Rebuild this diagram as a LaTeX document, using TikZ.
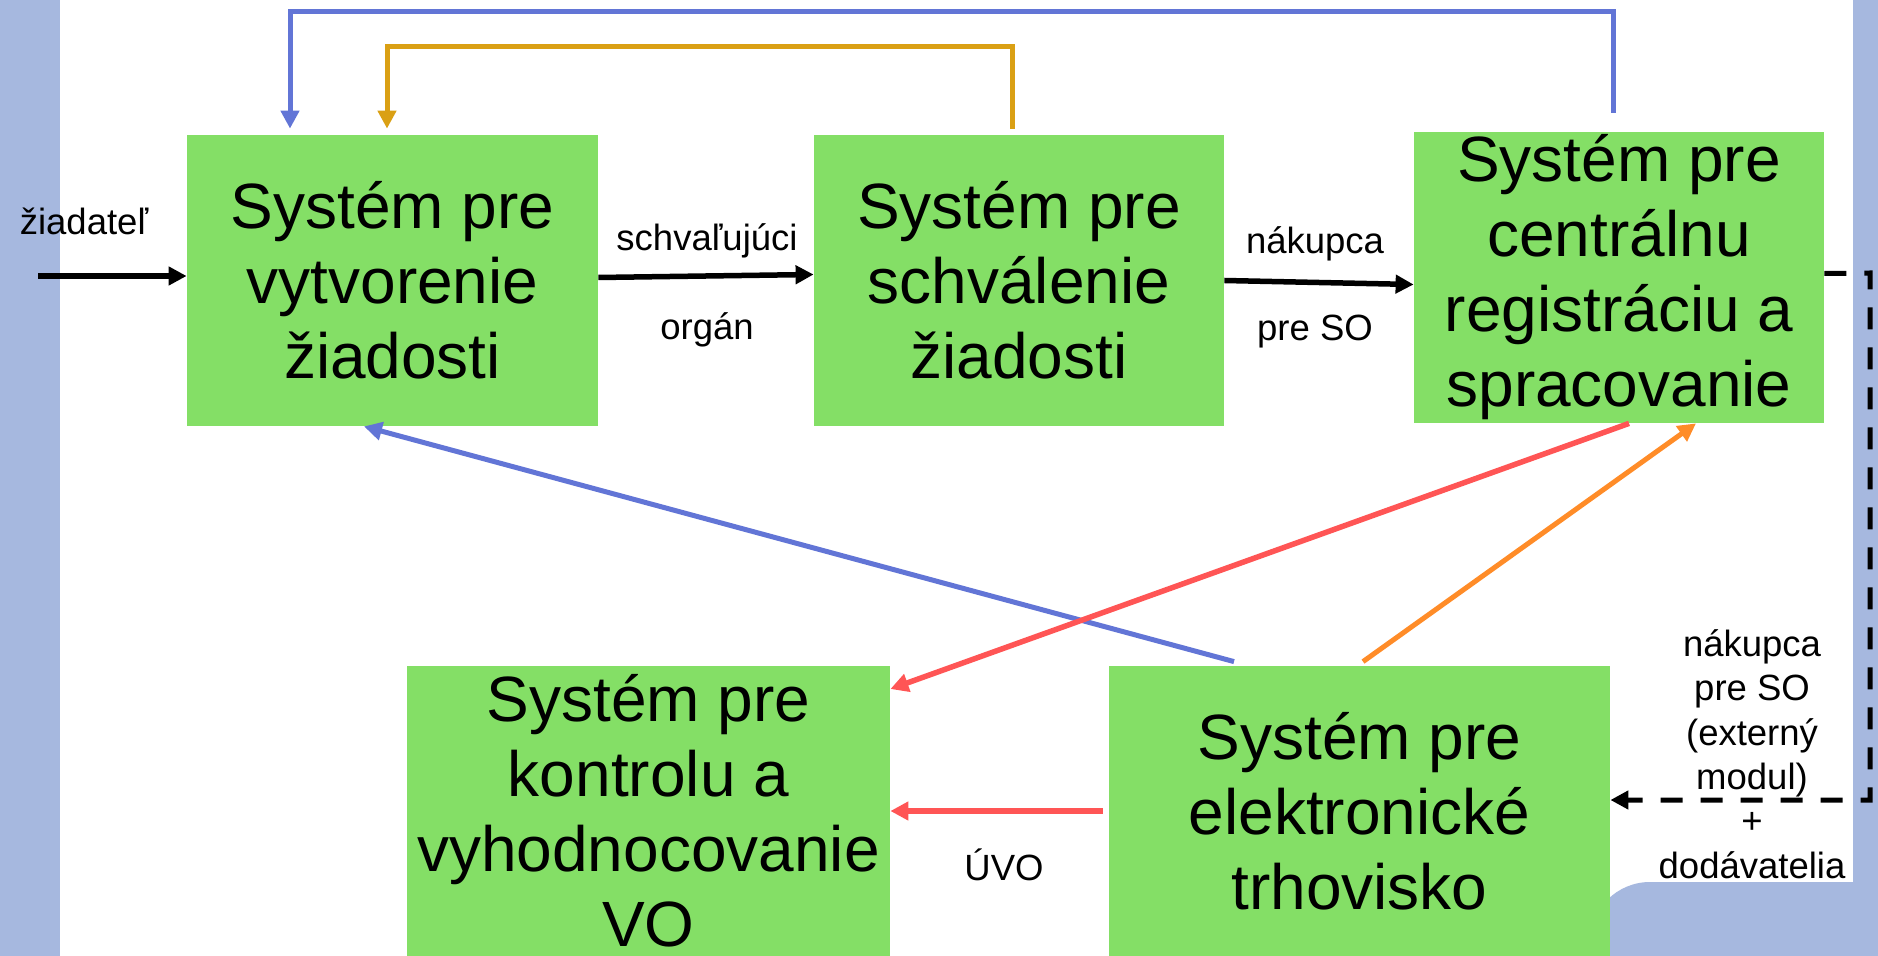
\documentclass[tikz,border=0pt]{standalone}
\usepackage{fontspec}
\setmainfont{Liberation Sans}
\usetikzlibrary{arrows.meta}
\definecolor{bandc}{HTML}{A6B8DF}
\definecolor{boxg}{HTML}{84DF66}
\definecolor{lnblue}{HTML}{6275D6}
\definecolor{lnred}{HTML}{FF5555}
\definecolor{lngold}{HTML}{DAA014}
\definecolor{lnorange}{HTML}{FF8C28}
\begin{document}
\begin{tikzpicture}[x=0.5pt,y=-0.5pt,
  sysbox/.style={fill=boxg, inner sep=0pt, align=center, font=\fontsize{32}{37.5}\selectfont},
  lbl/.style={inner sep=0pt, align=center, font=\fontsize{18.25}{22.2}\selectfont},
  headtip/.style={-{Triangle[length=9pt,width=9pt]}},
  blk/.style={headtip, line width=2.75pt, black},
  blueln/.style={headtip, line width=2.5pt, lnblue},
  goldln/.style={headtip, line width=2.5pt, lngold},
  redln/.style={headtip, line width=2.75pt, lnred},
  orln/.style={headtip, line width=2.5pt, lnorange},
  dashln/.style={headtip, line width=2.5pt, black, dash pattern=on 11pt off 9pt}
]
\useasboundingbox (0,0) rectangle (1878,956);
\fill[white] (0,0) rectangle (1878,956);
% background bands
\fill[bandc] (0,0) rectangle (60,956);
\fill[bandc] (1853,0) rectangle (1878,956);
\fill[bandc] (1590,960) [rounded corners=30pt] -- (1590,882) [sharp corners] -- (1878,882) -- (1878,960) -- cycle;

% boxes
\node[sysbox, minimum width=205.5pt, minimum height=145.5pt] (b1) at (392.5,280.5) {Systém pre\\vytvorenie\\žiadosti};
\node[sysbox, minimum width=205pt, minimum height=145.5pt] (b2) at (1019,280.5) {Systém pre\\schválenie\\žiadosti};
\node[sysbox, minimum width=205pt, minimum height=145.5pt] (b3) at (1619,277.5) {Systém pre\\centrálnu\\registráciu a\\spracovanie};
\node[sysbox, minimum width=241.5pt, minimum height=145pt] (b4) at (648.5,811) {Systém pre\\kontrolu a\\vyhodnocovanie\\VO};
\node[sysbox, minimum width=250.5pt, minimum height=145pt] (b5) at (1359.5,811) {Systém pre\\elektronické\\trhovisko};

% labels
\node[lbl] (lz) at (84,221) {žiadateľ};
\node[lbl] (l1a) at (707,241) {schvaľujúci};
\node[lbl] (l1b) at (707,330) {orgán};
\node[lbl] (l2a) at (1315,244) {nákupca};
\node[lbl] (l2b) at (1315,332) {pre SO};
\node[lbl] (luvo) at (1004,865) {ÚVO};
\node[lbl] (lext) at (1752,754) {nákupca\\pre SO\\(externý\\modul)\\+\\dodávatelia};

% coordinates
\coordinate (zs) at (38,276);
\coordinate (bt) at (290,12);
\coordinate (ot) at (387,47);
\coordinate (c1) at (1870,273);
\coordinate (c2) at (1870,800);

% connectors
\draw[blk] (zs) -- (zs -| b1.west);
\draw[blk] ([yshift=1.5pt]b1.east) -- ([yshift=3pt]b2.west);
\draw[blk] (b2.east) -- ([yshift=-3.5pt]b3.west);
\draw[dashln] ([yshift=2pt]b3.east) -- (c1) -- (c2) -- ([yshift=5.5pt]b5.east);

\draw[blueln, shorten <=9.5pt, shorten >=3pt] ([xshift=-3pt]b3.north) |- (bt) -- (bt |- b1.north);
\draw[goldln, shorten <=3pt, shorten >=3pt] ([xshift=-3.5pt]b2.north) |- (ot) -- (ot |- b1.north);

\draw[blueln] ([xshift=-62.75pt,yshift=2pt]b5.north) -- ([xshift=-14.25pt]b1.south);
\draw[redln] ([xshift=5pt]b3.south) -- ([yshift=61pt]b4.east);
\draw[orln] ([xshift=1.75pt,yshift=2pt]b5.north) -- ([xshift=38.5pt]b3.south);
\draw[redln, shorten <=3pt] (b5.west) -- (b4.east);
\end{tikzpicture}
\end{document}
